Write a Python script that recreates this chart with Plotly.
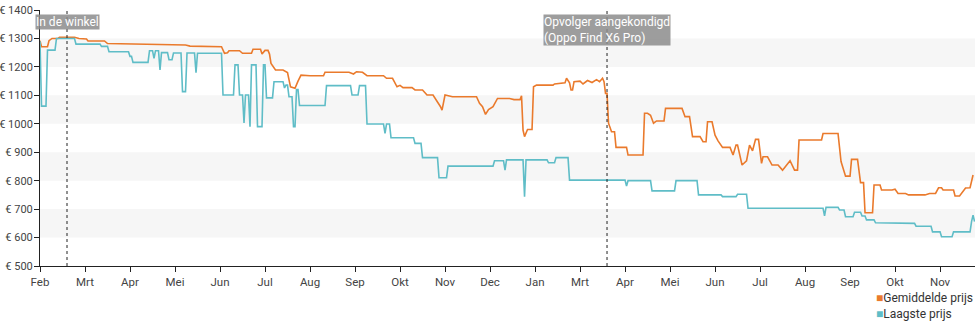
import plotly.graph_objects as go

# Lowest price per day (days counted from the first tick)
low_days = [0, 1, 4, 5, 10, 11, 23, 24, 40, 41, 45, 46, 59, 60, 61, 62, 72, 73, 75, 76, 77, 79, 80, 81, 85, 86, 88, 89, 94, 95,
            97, 98, 103, 104, 105, 121, 122, 129, 130, 132, 133, 135, 136, 137, 139, 140, 141, 144, 145, 148, 149, 150, 151, 155,
            156, 162, 163, 164, 165, 166, 168, 169, 170, 171, 172, 173, 190, 191, 207, 208, 212, 213, 217, 218, 229, 230, 231, 233,
            234, 249, 250, 254, 255, 265, 266, 271, 272, 302, 303, 309, 310, 311, 322, 323, 324, 338, 339, 343, 344, 352, 353, 390,
            391, 392, 407, 408, 423, 424, 438, 439, 454, 455, 464, 465, 471, 472, 522, 523, 524, 532, 533, 536, 537, 542, 543, 547,
            548, 550, 551, 556, 557, 575, 576, 583, 584, 594, 595, 600, 601, 608, 609, 620, 621, 622, 623]
low_prices = [1290, 1062, 1062, 1259, 1259, 1300, 1300, 1280, 1280, 1272, 1272, 1253, 1253, 1237, 1237, 1216, 1216, 1257, 1257,
              1230, 1257, 1257, 1189, 1250, 1250, 1225, 1225, 1249, 1249, 1113, 1113, 1249, 1249, 1180, 1248, 1248, 1101, 1101,
              1207, 1207, 1101, 1101, 1003, 1101, 1101, 990, 1207, 1207, 990, 990, 1207, 1207, 1091, 1091, 1148, 1148, 1126, 1136,
              1136, 1095, 1095, 990, 990, 1120, 1120, 1064, 1064, 1134, 1134, 1101, 1101, 1134, 1134, 999, 999, 966, 999, 999, 951,
              951, 931, 931, 881, 881, 810, 810, 851, 851, 870, 870, 837, 873, 873, 744, 873, 873, 863, 863, 881, 881, 802, 802, 781,
              800, 800, 764, 764, 800, 800, 750, 750, 744, 744, 752, 752, 703, 703, 676, 706, 706, 697, 697, 673, 673, 689, 689, 676,
              676, 662, 662, 652, 652, 650, 650, 640, 640, 620, 620, 603, 603, 620, 620, 656, 679, 656]

# Average price per day
avg_days = [0, 1, 5, 6, 8, 12, 13, 23, 26, 31, 32, 43, 45, 60, 72, 80, 97, 100, 121, 123, 125, 126, 133, 135, 141, 142, 147, 148,
            150, 152, 153, 154, 157, 162, 165, 167, 170, 172, 174, 180, 189, 190, 206, 209, 211, 215, 218, 229, 231, 235, 238, 240,
            242, 248, 250, 255, 258, 262, 265, 267, 268, 270, 275, 291, 293, 295, 297, 299, 302, 305, 313, 316, 320, 321, 322, 323,
            325, 328, 329, 331, 342, 343, 350, 351, 353, 354, 355, 356, 360, 362, 365, 368, 371, 373, 375, 376, 377, 378, 379, 381,
            383, 384, 391, 392, 402, 403, 405, 407, 409, 411, 416, 417, 428, 430, 433, 435, 440, 442, 444, 445, 448, 450, 452, 455,
            460, 462, 464, 465, 468, 471, 473, 475, 477, 479, 481, 482, 485, 488, 492, 495, 500, 503, 505, 506, 521, 522, 532, 534,
            537, 540, 541, 545, 547, 549, 550, 555, 556, 560, 561, 568, 570, 572, 577, 579, 590, 593, 597, 599, 601, 602, 609, 610,
            613, 617, 620, 622]
avg_prices = [1292, 1271, 1271, 1292, 1300, 1300, 1304, 1304, 1300, 1298, 1291, 1291, 1282, 1281, 1280, 1278, 1277, 1273, 1271,
              1248, 1250, 1257, 1257, 1248, 1248, 1262, 1262, 1245, 1258, 1258, 1245, 1212, 1189, 1189, 1180, 1130, 1125, 1150,
              1171, 1169, 1169, 1181, 1181, 1175, 1183, 1181, 1169, 1169, 1160, 1160, 1130, 1135, 1127, 1127, 1119, 1119, 1101,
              1101, 1078, 1060, 1048, 1101, 1095, 1095, 1072, 1060, 1033, 1050, 1060, 1089, 1089, 1085, 1085, 1098, 978, 955, 980,
              980, 1130, 1136, 1136, 1140, 1144, 1160, 1144, 1119, 1119, 1148, 1150, 1140, 1152, 1145, 1155, 1148, 1160, 1148,
              1107, 1107, 1002, 972, 972, 917, 917, 890, 890, 1037, 1037, 1030, 1002, 1010, 1010, 1054, 1054, 1025, 1025, 955, 955,
              937, 937, 1007, 1007, 960, 940, 917, 917, 890, 925, 925, 855, 870, 925, 905, 945, 945, 861, 884, 884, 855, 855, 837,
              870, 837, 837, 943, 943, 966, 966, 867, 816, 816, 875, 875, 793, 793, 687, 687, 785, 785, 767, 767, 770, 755, 755,
              750, 750, 755, 755, 775, 775, 767, 767, 746, 746, 774, 775, 820]

# Axis ticks
tick_days = [0, 30, 60, 90, 120, 150, 180, 210, 240, 270, 300, 330, 360, 390, 420, 450, 480, 510, 540, 570, 600]
tick_labels = ["Feb", "Mrt", "Apr", "Mei", "Jun", "Jul", "Aug", "Sep", "Okt", "Nov", "Dec", "Jan", "Mrt", "Apr", "Mei",
               "Jun", "Jul", "Aug", "Sep", "Okt", "Nov"]
price_ticks = [500, 600, 700, 800, 900, 1000, 1100, 1200, 1300, 1400]

# Marked events
event_days = [18, 378]
event_labels = ["In de winkel", "Opvolger aangekondigd<br>(Oppo Find X6 Pro)"]

series_names = ["Gemiddelde prijs", "Laagste prijs"]
ORANGE = "#ea7a2c"
TEAL = "#5fbdc7"
FONT = "Roboto"
TEXT = "#444444"
X_END = 623.3

fig = go.Figure()
fig.add_trace(go.Scatter(x=avg_days, y=avg_prices, mode="lines", name=series_names[0],
                         line=dict(color=ORANGE, width=1.6), showlegend=False))
fig.add_trace(go.Scatter(x=low_days, y=low_prices, mode="lines", name=series_names[1],
                         line=dict(color=TEAL, width=1.6), showlegend=False))

# Alternating horizontal bands
shapes = []
for lo in price_ticks[1:-1:2]:
    shapes.append(dict(type="rect", xref="paper", x0=0, x1=1, yref="y", y0=lo, y1=lo + 100,
                       fillcolor="#f6f6f6", line=dict(width=0), layer="below"))
for d in event_days:
    shapes.append(dict(type="line", xref="x", x0=d, x1=d, yref="paper", y0=0, y1=1,
                       line=dict(color="#222222", width=1, dash="dot"), layer="above"))

annotations = []
for d, lab in zip(event_days, event_labels):
    annotations.append(dict(x=d, xref="x", y=1, yref="paper", yanchor="top", xanchor="center",
                            yshift=-4, text=lab, showarrow=False, align="left",
                            font=dict(family=FONT, size=12, color="white"),
                            bgcolor="rgba(140,140,140,0.85)", borderpad=0))

# Legend drawn as coloured squares with labels
legend_text = "<br>".join(
    f"<span style='color:{c}'>■</span>{n}" for c, n in zip([ORANGE, TEAL], series_names))
annotations.append(dict(x=1, xref="paper", xanchor="right", y=-0.09, yref="paper", yanchor="top",
                        text=legend_text, showarrow=False, align="left",
                        font=dict(family=FONT, size=12, color="#333333")))

fig.update_layout(
    width=980, height=325,
    margin=dict(l=40, r=5, t=10, b=59),
    paper_bgcolor="white", plot_bgcolor="white",
    font=dict(family=FONT, size=12, color=TEXT),
    shapes=shapes, annotations=annotations,
    showlegend=False,
    xaxis=dict(range=[0, X_END], tickmode="array", tickvals=tick_days, ticktext=tick_labels,
               automargin=False,
               showgrid=False, zeroline=False, showline=True, linecolor="#222222", linewidth=1,
               ticks="outside", ticklen=5, tickcolor="#222222",
               tickfont=dict(family=FONT, size=11.5, color=TEXT)),
    yaxis=dict(range=[500, 1400], tickmode="array", tickvals=price_ticks,
               ticktext=[f"€ {v}" for v in price_ticks], automargin=False,
               ticklabelstandoff=-1,
               showgrid=False, zeroline=False, showline=True, linecolor="#222222", linewidth=1,
               ticks="outside", ticklen=5, tickcolor="#222222",
               tickfont=dict(family=FONT, size=11, color=TEXT)),
)

fig.write_html("out.html")
